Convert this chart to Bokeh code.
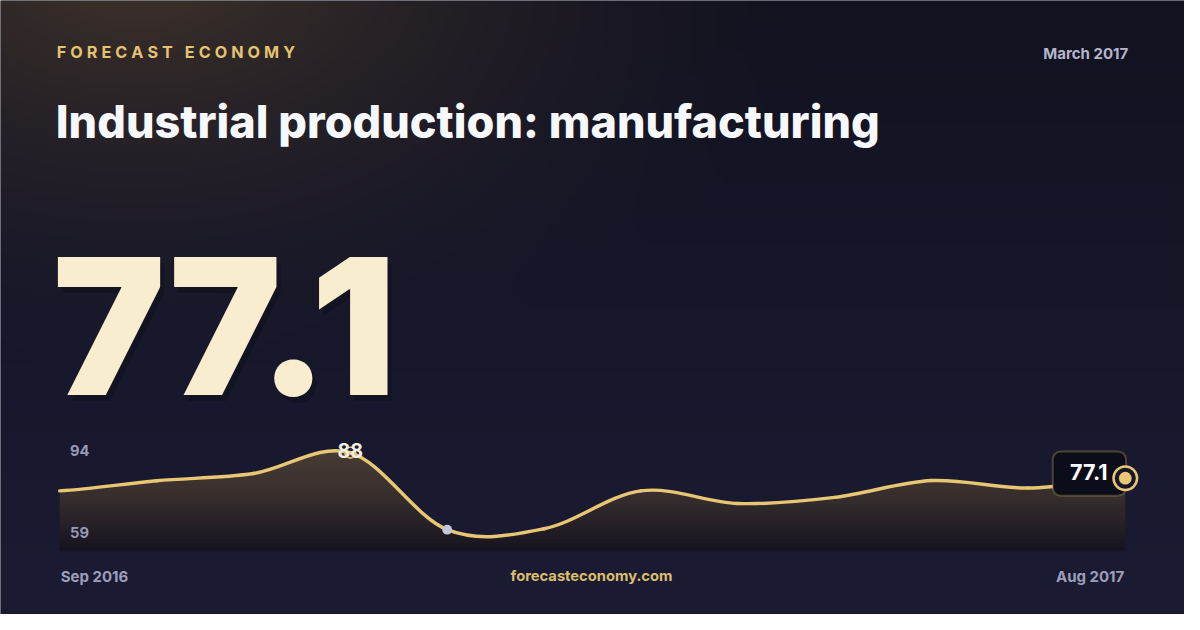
import numpy as np
from bokeh.plotting import figure
from bokeh.models import Range1d, BoxAnnotation
from bokeh.core.properties import value
from bokeh.embed import file_html
from bokeh.resources import INLINE

# ---------------- data ----------------
months = ["Sep 2016", "Oct 2016", "Nov 2016", "Dec 2016", "Jan 2017", "Feb 2017",
          "Mar 2017", "Apr 2017", "May 2017", "Jun 2017", "Jul 2017", "Aug 2017"]
values = [71.7, 76.0, 79.1, 88.0, 55.1, 55.5, 71.7, 66.3, 68.9, 76.1, 72.9, 77.1]
axis_ticks = [94, 59]
axis_tick_labels = ["94", "59"]
headline = "77.1"
brand = "FORECAST ECONOMY"
report_date = "March 2017"
title = "Industrial production: manufacturing"
site = "forecasteconomy.com"

# ---------------- layout / style ----------------
W, H = 1184, 614                    # figure size (fits 1200x630 window with 8px margin)
RW, RH = 1200, 630                  # design canvas (reference pixel coordinates)
SX, SY = W / RW, H / RH
SF = (SX + SY) / 2                  # font / marker scale
X_FIRST, X_LAST = 60, 1140          # design x of first / last month
ANCHOR_PX, PX_PER_UNIT = 464, 2.40  # design y of the max value, px per unit
BASE_PX = 565                       # bottom of area fill
GOLD = "#e8c674"
FONT = "Inter"


def fs(px):
    return "%.2fpx" % (px * SF)


n = len(values)
ppm = (X_LAST - X_FIRST) / (n - 1)
vmax = max(values)
imax = values.index(vmax)
imin = values.index(min(values))


def v_at(py):
    return vmax - (py - ANCHOR_PX) / PX_PER_UNIT


p = figure(width=W, height=H, x_range=Range1d(0, RW), y_range=Range1d(RH, 0),
           output_backend="svg", toolbar_location=None, tools="",
           x_axis_location=None, y_axis_location=None, min_border=0,
           background_fill_color="#17172b", border_fill_color="#17172b",
           outline_line_color=None)
p.xgrid.visible = False
p.ygrid.visible = False
p.extra_x_ranges = {"m": Range1d(-X_FIRST / ppm, (n - 1) + (RW - X_LAST) / ppm),
                    "bgx": Range1d(0, RW)}
p.extra_y_ranges = {"v": Range1d(v_at(RH), v_at(0)), "bgy": Range1d(0, RH)}

# ---------------- background (gradient + warm glow) ----------------
s = 4
gw, gh = RW // s, int(np.ceil(RH / s))
xs = (np.arange(gw) + 0.5) * RW / gw
ys = (np.arange(gh) + 0.5) * RH / gh
X, Y = np.meshgrid(xs, ys)
top = np.array([18, 18, 32], float)
bot = np.array([27, 28, 52], float)
tt = (Y / RH)[..., None]
base = top * (1 - tt) + bot * tt
d = np.sqrt(((X - 140) / 720.0) ** 2 + ((Y + 40) / 430.0) ** 2)
g = (np.clip(1 - d, 0, 1) ** 1.6)[..., None]
glow = np.array([64, 52, 44], float)
col = base * (1 - g) + glow * g
img = np.zeros((gh, gw), dtype=np.uint32)
view = img.view(dtype=np.uint8).reshape((gh, gw, 4))
view[..., 0] = col[..., 0]
view[..., 1] = col[..., 1]
view[..., 2] = col[..., 2]
view[..., 3] = 255
p.image_rgba(image=[np.flipud(img)], x=0, y=0, dw=RW, dh=RH,
             x_range_name="bgx", y_range_name="bgy")

# ---------------- smooth curve (Catmull-Rom as Bezier) ----------------
xi = np.arange(n, dtype=float)
yi = np.array(values, float)
xp = np.concatenate([[xi[0] - 1], xi, [xi[-1] + 1]])
yp = np.concatenate([[yi[0]], yi, [yi[-1]]])
x0, y0 = xp[1:-2], yp[1:-2]
x1, y1 = xp[2:-1], yp[2:-1]
cx0 = x0 + (xp[2:-1] - xp[0:-3]) / 6
cy0 = y0 + (yp[2:-1] - yp[0:-3]) / 6
cx1 = x1 - (xp[3:] - xp[1:-2]) / 6
cy1 = y1 - (yp[3:] - yp[1:-2]) / 6

t = np.linspace(0, 1, 17)[:-1][None, :]


def bez(a, b, c, e):
    a, b, c, e = (q[:, None] for q in (a, b, c, e))
    return ((1 - t) ** 3 * a + 3 * (1 - t) ** 2 * t * b + 3 * (1 - t) * t ** 2 * c + t ** 3 * e).ravel()


xd = np.concatenate([bez(x0, cx0, cx1, x1), [xi[-1]]])
yd = np.concatenate([bez(y0, cy0, cy1, y1), [yi[-1]]])

# gradient area fill, drawn as horizontal colour bands clipped by the curve
stops_px = [448, 500, 535, BASE_PX]
stops_rgb = np.array([[76, 63, 55], [58, 49, 46], [40, 34, 40], [20, 19, 31]], float)
edges = np.linspace(448, BASE_PX, 30)
for top_px, bot_px in zip(edges[:-1], edges[1:]):
    mid = (top_px + bot_px) / 2
    c = [int(round(np.interp(mid, stops_px, stops_rgb[:, k]))) for k in range(3)]
    hi = v_at(top_px)
    lo = v_at(min(bot_px + 0.8, BASE_PX))
    p.varea(x=xd, y1=np.full_like(xd, lo), y2=np.clip(yd, lo, hi),
            fill_color="#%02x%02x%02x" % tuple(c), x_range_name="m", y_range_name="v")

p.bezier(x0=x0, y0=y0, x1=x1, y1=y1, cx0=cx0, cy0=cy0, cx1=cx1, cy1=cy1,
         line_color=GOLD, line_width=3.5 * SF, line_cap="round",
         x_range_name="m", y_range_name="v")

# ---------------- big headline number with soft shadow ----------------
BIG_FONT = value("Inter Black")
p.text(x=[57], y=[340], text=[headline], text_align="left", text_baseline="middle",
       text_font=BIG_FONT, text_font_style="normal", text_font_size=fs(193),
       text_color="#06060d", text_alpha=0.28)
p.text(x=[53], y=[333.5], text=[headline], text_align="left", text_baseline="middle",
       text_font=BIG_FONT, text_font_style="normal", text_font_size=fs(193),
       text_color="#f9edcf")

# ---------------- markers & labels on the sparkline ----------------
p.scatter(x=[imax], y=[vmax], size=11 * SF, fill_alpha=0, line_color=GOLD, line_width=1.6,
          x_range_name="m", y_range_name="v")
p.scatter(x=[imin], y=[values[imin]], size=10 * SF, fill_color="#c3c6da", line_color=None,
          x_range_name="m", y_range_name="v")
p.text(x=[imax], y=[vmax], text=["%g" % vmax], text_align="center", text_baseline="middle",
       y_offset=-2 * SY, text_font=value(FONT), text_font_style="bold", text_font_size=fs(20),
       text_color="#f2eee2", x_range_name="m", y_range_name="v")

# y tick labels
p.text(x=[0] * len(axis_ticks), y=axis_ticks, text=axis_tick_labels, x_offset=10.5 * SX,
       y_offset=12.4 * SY, text_align="left", text_baseline="middle", text_font=value(FONT),
       text_font_style="bold", text_font_size=fs(15), text_color="#9899b6",
       x_range_name="m", y_range_name="v")

# last value callout
last_v = values[-1]
p.add_layout(BoxAnnotation(left=(n - 1) - 73.5 / ppm, right=(n - 1) + 0.7 / ppm,
                           top=last_v + 27.5 / PX_PER_UNIT, bottom=last_v - 18.0 / PX_PER_UNIT,
                           fill_color="#0c0d1a", fill_alpha=1, line_color="#d4b366",
                           line_width=2, border_radius=8,
                           x_range_name="m", y_range_name="v"))
p.scatter(x=[n - 1], y=[last_v], size=24 * SF, fill_color="#15162a", line_color=GOLD,
          line_width=2.5, level="overlay", x_range_name="m", y_range_name="v")
p.scatter(x=[n - 1], y=[last_v], size=13 * SF, fill_color=GOLD, line_color=None,
          level="overlay", x_range_name="m", y_range_name="v")
p.text(x=[n - 1], y=[last_v], text=["%g" % last_v], x_offset=-37 * SX, y_offset=-6.5 * SY,
       text_align="center", text_baseline="middle", text_font=value(FONT),
       text_font_style="bold", text_font_size=fs(22), text_color="#ffffff",
       level="overlay", x_range_name="m", y_range_name="v")

# ---------------- header texts ----------------
spaced_brand = "\u2005".join(list(brand))
p.text(x=[57], y=[53], text=[spaced_brand], text_align="left", text_baseline="middle",
       text_font=value(FONT), text_font_style="bold", text_font_size=fs(16.5),
       text_color="#e5c36f")
p.text(x=[1143], y=[54.2], text=[report_date], text_align="right", text_baseline="middle",
       text_font=value(FONT), text_font_style="bold", text_font_size=fs(15.3),
       text_color="#b5b6cc")
p.text(x=[56], y=[123.7], text=[title], text_align="left", text_baseline="middle",
       text_font=value("Inter ExtraBold"), text_font_style="normal", text_font_size=fs(45.9),
       text_color="#f7f8fc")

# ---------------- footer ----------------
p.text(x=[0], y=[591], text=[months[0]], text_align="left", text_baseline="middle",
       x_offset=1, text_font=value(FONT), text_font_style="bold", text_font_size=fs(15.3),
       text_color="#9d9ebb", x_range_name="m")
p.text(x=[n - 1], y=[591], text=[months[-1]], text_align="right", text_baseline="middle",
       x_offset=-1, text_font=value(FONT), text_font_style="bold", text_font_size=fs(15.3),
       text_color="#9d9ebb", x_range_name="m")
p.text(x=[599], y=[591], text=[site], text_align="center", text_baseline="middle",
       text_font=value(FONT), text_font_style="bold", text_font_size=fs(15),
       text_color="#dcbd6e")

open("out.html", "w").write(file_html(p, INLINE))
